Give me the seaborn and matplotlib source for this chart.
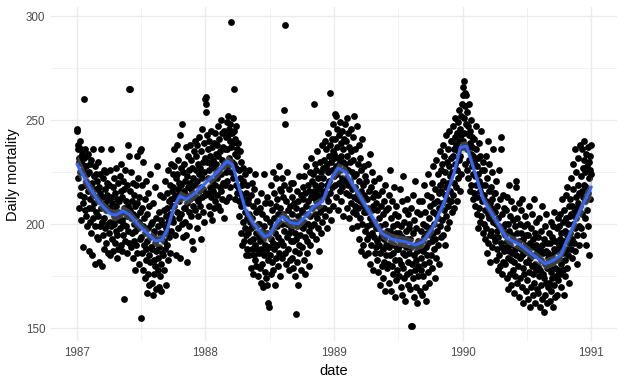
import pandas as pd
import seaborn as sns
import matplotlib.pyplot as plt
import matplotlib.dates as mdates
from matplotlib.ticker import MultipleLocator
import numpy as np

# Daily mortality, one list per month
deaths_1987 = [
    [246, 245, 236, 222, 238, 230, 208, 232, 214, 240, 225, 202, 236, 218, 234, 229, 210, 189, 226, 260,
     232, 213, 219, 207, 236, 228, 204, 221, 233, 199, 224],
    [216, 234, 208, 187, 225, 212, 229, 201, 218, 196, 231, 208, 185, 220, 214, 236, 203, 223, 210, 199,
     228, 181, 217, 206, 224, 213, 194, 221],
    [204, 230, 193, 218, 211, 182, 224, 199, 215, 208, 236, 201, 180, 213, 222, 195, 209, 226, 203, 188,
     217, 210, 198, 225, 207, 191, 214, 220, 200, 186, 212],
    [208, 219, 196, 226, 201, 185, 213, 199, 236, 207, 193, 210, 187, 218, 204, 222, 200, 191, 215, 203,
     197, 227, 209, 184, 212, 195, 206, 220, 188, 202],
    [211, 198, 223, 205, 190, 216, 229, 202, 187, 213, 200, 221, 195, 208, 217, 164, 206, 192, 226, 199,
     211, 186, 204, 219, 197, 209, 238, 191, 233, 265, 265],
    [207, 216, 189, 203, 225, 196, 211, 184, 205, 220, 192, 200, 214, 178, 209, 197, 219, 190, 204, 233,
     186, 210, 198, 222, 181, 201, 213, 193, 206, 235],
    [194, 236, 155, 208, 186, 219, 199, 178, 230, 190, 203, 174, 212, 196, 183, 221, 188, 167, 205, 192,
     176, 215, 198, 185, 209, 171, 194, 224, 182, 200, 189],
    [188, 172, 201, 195, 166, 210, 183, 197, 176, 218, 191, 180, 203, 169, 187, 228, 193, 178, 199, 184,
     170, 206, 189, 175, 214, 196, 181, 168, 202, 186, 193],
    [200, 185, 213, 192, 178, 207, 196, 221, 188, 204, 171, 198, 215, 190, 208, 183, 226, 201, 194, 211,
     186, 205, 219, 197, 212, 229, 203, 216, 209, 224],
    [218, 201, 228, 209, 236, 195, 214, 222, 185, 212, 238, 206, 224, 198, 217, 231, 203, 220, 211, 243,
     184, 215, 227, 205, 219, 200, 248, 213, 194, 225, 208],
    [216, 229, 201, 221, 208, 237, 214, 195, 223, 210, 182, 218, 233, 206, 226, 199, 212, 238, 220, 204,
     217, 231, 192, 215, 227, 209, 222, 188, 213, 235],
    [219, 240, 207, 226, 213, 233, 198, 221, 238, 211, 229, 204, 224, 216, 242, 209, 227, 193, 218, 235,
     222, 213, 246, 206, 230, 217, 239, 201, 225, 232, 214],
]

deaths_1988 = [
    [260, 261, 258, 254, 230, 243, 215, 236, 222, 209, 240, 226, 218, 233, 205, 229, 245, 213, 237, 221,
     202, 231, 216, 239, 208, 227, 219, 244, 211, 234, 224],
    [229, 214, 238, 222, 247, 209, 233, 226, 241, 218, 207, 235, 224, 250, 216, 231, 212, 244, 228, 220,
     237, 203, 230, 245, 219, 236, 225, 242, 211],
    [236, 249, 221, 243, 228, 252, 213, 246, 232, 240, 218, 248, 237, 225, 297, 244, 230, 251, 222, 239,
     265, 229, 245, 212, 241, 234, 219, 247, 227, 236, 215],
    [233, 218, 239, 211, 226, 204, 235, 215, 222, 196, 230, 209, 219, 190, 213, 227, 201, 221, 192, 210,
     224, 198, 206, 185, 215, 195, 219, 188, 203, 210],
    [196, 212, 185, 205, 226, 192, 201, 179, 214, 198, 188, 220, 203, 176, 209, 193, 185, 217, 199, 190,
     224, 183, 206, 196, 180, 211, 188, 200, 175, 207, 194],
    [186, 200, 179, 208, 192, 172, 215, 188, 197, 181, 205, 170, 193, 224, 185, 199, 177, 210, 190, 174,
     203, 187, 196, 171, 213, 183, 195, 162, 189, 160],
    [201, 185, 210, 193, 176, 219, 198, 182, 207, 191, 225, 178, 203, 188, 215, 196, 171, 209, 184, 222,
     199, 190, 212, 180, 205, 194, 228, 186, 201, 175, 217],
    [208, 192, 216, 200, 184, 222, 205, 190, 213, 255, 197, 219, 186, 296, 248, 203, 181, 211, 194, 225,
     200, 188, 207, 178, 217, 196, 209, 183, 201, 220, 192],
    [198, 213, 184, 205, 192, 220, 179, 201, 210, 187, 196, 175, 157, 208, 193, 216, 182, 199, 204, 171,
     211, 190, 223, 186, 202, 195, 178, 214, 199, 206],
    [207, 189, 218, 198, 212, 183, 223, 201, 194, 215, 176, 209, 228, 192, 205, 186, 219, 200, 211, 180,
     216, 197, 225, 204, 190, 213, 232, 199, 208, 195, 221],
    [213, 224, 258, 200, 216, 229, 205, 219, 193, 211, 226, 203, 235, 214, 198, 222, 209, 187, 217, 230,
     206, 213, 196, 225, 219, 208, 238, 201, 215, 227],
    [222, 208, 231, 216, 240, 204, 227, 213, 236, 219, 198, 229, 244, 211, 225, 233, 207, 221, 238, 263,
     215, 230, 202, 226, 241, 218, 235, 209, 248, 223, 232],
]

deaths_1989 = [
    [234, 253, 219, 241, 228, 252, 213, 237, 224, 246, 207, 232, 220, 243, 229, 216, 249, 226, 239, 211,
     233, 222, 245, 218, 236, 204, 230, 241, 221, 227, 248],
    [229, 215, 240, 222, 251, 208, 233, 219, 244, 226, 203, 237, 214, 230, 221, 246, 210, 235, 198, 225,
     217, 242, 206, 231, 213, 252, 223, 209],
    [218, 236, 205, 224, 212, 247, 199, 229, 215, 208, 238, 193, 221, 203, 232, 211, 187, 226, 216, 200,
     241, 209, 219, 190, 228, 206, 214, 197, 223, 185, 212],
    [206, 221, 193, 212, 199, 229, 186, 208, 216, 195, 234, 203, 181, 218, 200, 190, 225, 207, 196, 213,
     178, 209, 221, 194, 201, 186, 215, 198, 210, 189],
    [192, 207, 183, 214, 198, 177, 203, 190, 222, 186, 199, 171, 209, 194, 180, 216, 196, 188, 205, 174,
     211, 193, 182, 200, 168, 219, 190, 185, 207, 197, 179],
    [195, 181, 208, 189, 172, 214, 197, 185, 226, 192, 168, 203, 180, 211, 194, 176, 199, 186, 218, 190,
     165, 205, 183, 196, 173, 209, 188, 200, 178, 193],
    [188, 204, 175, 196, 183, 217, 190, 170, 199, 181, 211, 194, 166, 186, 223, 179, 201, 192, 174, 207,
     185, 163, 197, 189, 212, 176, 193, 182, 205, 171, 198],
    [186, 200, 177, 193, 169, 208, 151, 189, 181, 151, 196, 174, 214, 185, 165, 202, 190, 178, 221, 183,
     170, 198, 187, 162, 206, 180, 192, 175, 211, 188, 168],
    [190, 205, 178, 197, 184, 166, 211, 192, 175, 200, 187, 219, 181, 194, 170, 206, 189, 199, 163, 214,
     185, 196, 177, 224, 191, 182, 203, 172, 209, 195],
    [198, 185, 213, 192, 220, 179, 206, 196, 228, 188, 210, 200, 174, 217, 193, 205, 231, 184, 211, 197,
     224, 190, 203, 215, 181, 208, 235, 199, 219, 194, 226],
    [216, 202, 229, 210, 238, 195, 221, 207, 233, 214, 190, 225, 218, 243, 204, 230, 212, 198, 236, 220,
     209, 228, 245, 201, 223, 216, 240, 211, 232, 206],
    [225, 240, 214, 233, 247, 220, 236, 208, 242, 229, 251, 218, 238, 226, 244, 211, 235, 249, 222, 231,
     255, 240, 216, 246, 233, 252, 224, 243, 258, 237, 262],
]

deaths_1990 = [
    [266, 240, 269, 251, 244, 263, 229, 257, 238, 262, 248, 226, 254, 236, 247, 222, 243, 258, 231, 239,
     216, 245, 234, 250, 219, 237, 228, 242, 212, 233, 224],
    [230, 215, 241, 223, 209, 236, 219, 247, 205, 228, 213, 232, 198, 224, 239, 208, 221, 201, 233, 216,
     245, 204, 226, 211, 219, 196, 230, 212],
    [214, 200, 226, 207, 193, 219, 233, 198, 211, 186, 222, 205, 240, 191, 216, 203, 229, 195, 210, 182,
     218, 208, 197, 225, 189, 212, 201, 236, 194, 206, 215],
    [206, 192, 215, 183, 200, 221, 188, 197, 209, 178, 203, 194, 226, 185, 199, 212, 180, 242, 191, 236,
     176, 205, 189, 198, 214, 182, 196, 208, 187, 200],
    [195, 181, 207, 189, 174, 213, 192, 200, 184, 169, 219, 187, 197, 176, 204, 190, 183, 211, 171, 195,
     186, 202, 178, 193, 167, 208, 182, 199, 188, 175, 221],
    [218, 185, 196, 172, 203, 189, 180, 210, 165, 192, 184, 200, 174, 207, 188, 196, 170, 185, 212, 179,
     193, 162, 199, 186, 176, 204, 190, 168, 195, 182],
    [188, 173, 200, 182, 164, 195, 186, 209, 177, 191, 160, 184, 198, 170, 205, 180, 189, 166, 193, 176,
     212, 185, 172, 196, 181, 162, 190, 178, 201, 169, 187],
    [180, 194, 167, 185, 175, 203, 160, 188, 178, 197, 171, 183, 209, 164, 190, 176, 186, 158, 193, 174,
     199, 181, 166, 187, 172, 205, 179, 162, 191, 184, 170],
    [186, 172, 196, 180, 163, 191, 177, 201, 168, 185, 194, 174, 182, 160, 199, 188, 171, 206, 179, 165,
     192, 183, 175, 198, 166, 187, 178, 203, 173, 190],
    [184, 199, 176, 193, 205, 181, 196, 170, 189, 212, 186, 178, 201, 192, 166, 207, 183, 197, 175, 214,
     188, 203, 179, 195, 218, 185, 200, 172, 209, 191, 204],
    [196, 212, 188, 205, 222, 193, 209, 184, 217, 200, 229, 191, 206, 198, 236, 187, 213, 203, 225, 195,
     208, 181, 219, 210, 232, 199, 215, 190, 238, 206],
    [209, 223, 198, 216, 236, 205, 227, 213, 195, 231, 219, 240, 203, 225, 211, 234, 190, 218, 228, 207,
     237, 215, 199, 230, 222, 185, 226, 233, 212, 238, 224],
]

# smoothed trend (geom_smooth), at decimal years
smooth_years = [1987.00, 1987.10, 1987.18, 1987.26, 1987.30, 1987.36, 1987.41, 1987.49, 1987.61,
                1987.66, 1987.70, 1987.75, 1987.80, 1987.85, 1987.90, 1988.01, 1988.09, 1988.17,
                1988.21, 1988.25, 1988.31, 1988.37, 1988.46, 1988.50, 1988.55, 1988.60, 1988.66,
                1988.72, 1988.79, 1988.84, 1988.91, 1988.97, 1989.03, 1989.09, 1989.18, 1989.28,
                1989.37, 1989.45, 1989.56, 1989.63, 1989.69, 1989.77, 1989.85, 1989.93, 1989.98,
                1990.03, 1990.08, 1990.16, 1990.24, 1990.34, 1990.45, 1990.53, 1990.64, 1990.70,
                1990.76, 1990.89, 1991.00]
smooth_values = [229.0, 217.5, 210.0, 205.0, 204.4, 206.4, 204.5, 199.0, 192.0,
                 192.5, 197.0, 207.7, 213.6, 212.0, 214.0, 220.4, 225.0, 230.4,
                 228.5, 219.8, 207.0, 200.6, 194.0, 195.0, 200.6, 203.7, 200.8,
                 200.2, 204.5, 208.5, 211.0, 221.0, 227.0, 225.0, 215.5, 205.3,
                 195.7, 192.8, 191.5, 190.0, 191.5, 198.7, 210.0, 224.4, 237.0,
                 237.5, 227.6, 211.7, 203.7, 193.4, 190.0, 186.0, 181.0, 182.5,
                 185.0, 203.7, 218.0]
smooth_halfwidth = [5.0, 3.2, 2.8, 2.7, 2.7, 2.7, 2.7, 2.7, 2.7,
                    2.7, 2.7, 2.7, 2.7, 2.7, 2.7, 2.7, 2.7, 2.7,
                    2.7, 2.7, 2.7, 2.7, 2.7, 2.7, 2.7, 2.7, 2.7,
                    2.7, 2.7, 2.7, 2.7, 2.7, 2.7, 2.7, 2.7, 2.7,
                    2.7, 2.7, 2.7, 2.7, 2.7, 2.7, 2.7, 2.7, 2.7,
                    2.7, 2.7, 2.7, 2.7, 2.7, 2.7, 2.7, 2.7, 2.7,
                    2.8, 3.2, 5.0]

# build the daily table
rows = []
for year, months in [(1987, deaths_1987), (1988, deaths_1988), (1989, deaths_1989), (1990, deaths_1990)]:
    for m, vals in enumerate(months, start=1):
        days = pd.date_range(pd.Timestamp(year, m, 1), periods=len(vals), freq='D')
        rows.append(pd.DataFrame({'date': days, 'deaths': vals}))
df = pd.concat(rows, ignore_index=True)

sm = pd.DataFrame({'year': smooth_years, 'fit': smooth_values, 'se': smooth_halfwidth})
sm['date'] = pd.Timestamp('1987-01-01') + pd.to_timedelta((sm['year'] - 1987) * 365.25, unit='D')

sns.set_style('white')
plt.rcParams['font.family'] = ['Liberation Sans', 'DejaVu Sans']

fig = plt.figure(figsize=(6.24, 3.84), dpi=100)
ax = fig.add_axes([0.082, 0.111, 0.907, 0.870])

sns.scatterplot(data=df, x='date', y='deaths', color='black', s=24, linewidth=0, ax=ax, zorder=2)
ax.fill_between(sm['date'], sm['fit'] - sm['se'], sm['fit'] + sm['se'],
                color='#999999', alpha=0.4, linewidth=0, zorder=3)
sns.lineplot(data=sm, x='date', y='fit', color='#3366FF', linewidth=2.1, ax=ax, zorder=4)

# ggplot-like 5% expansion
x0 = mdates.date2num(df['date'].min())
x1 = mdates.date2num(sm['date'].max())
ax.set_xlim(x0 - 0.05 * (x1 - x0), x1 + 0.05 * (x1 - x0))
y0, y1 = df['deaths'].min(), df['deaths'].max()
ax.set_ylim(y0 - 0.05 * (y1 - y0), y1 + 0.05 * (y1 - y0))

ax.xaxis.set_major_locator(mdates.YearLocator())
ax.xaxis.set_major_formatter(mdates.DateFormatter('%Y'))
ax.xaxis.set_minor_locator(mdates.MonthLocator(bymonth=7))
ax.yaxis.set_major_locator(MultipleLocator(50))
ax.yaxis.set_minor_locator(MultipleLocator(25))

ax.grid(which='major', color='#EBEBEB', linewidth=1.0, zorder=0)
ax.grid(which='minor', color='#EBEBEB', linewidth=0.5, zorder=0)
ax.set_axisbelow(True)
for s in ax.spines.values():
    s.set_visible(False)
ax.tick_params(which='both', length=0, pad=4.3, labelsize=8.4, labelcolor='#4D4D4D')

ax.set_xlabel('date', fontsize=10.5, color='black', labelpad=3)
ax.set_ylabel('Daily mortality', fontsize=10.5, color='black', labelpad=4)

fig.savefig('out.png', dpi=100)
